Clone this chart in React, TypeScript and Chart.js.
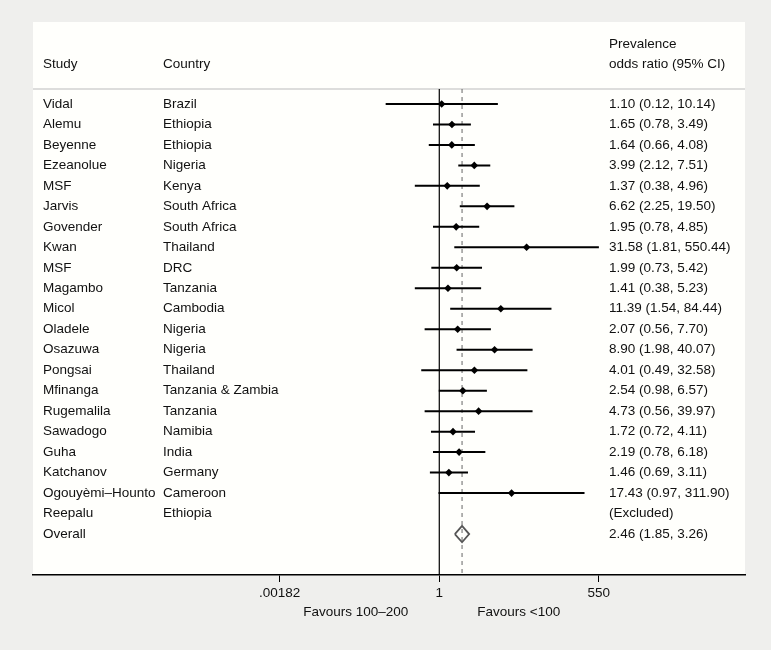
import React, { useEffect, useRef } from "react";
import { Chart, registerables } from "chart.js";

Chart.register(...registerables);

// ---------- data ----------
const studies = [
  "Vidal", "Alemu", "Beyenne", "Ezeanolue", "MSF", "Jarvis", "Govender", "Kwan", "MSF",
  "Magambo", "Micol", "Oladele", "Osazuwa", "Pongsai", "Mfinanga", "Rugemalila",
  "Sawadogo", "Guha", "Katchanov", "Ogouyèmi–Hounto", "Reepalu",
];
const countries = [
  "Brazil", "Ethiopia", "Ethiopia", "Nigeria", "Kenya", "South Africa", "South Africa",
  "Thailand", "DRC", "Tanzania", "Cambodia", "Nigeria", "Nigeria", "Thailand",
  "Tanzania & Zambia", "Tanzania", "Namibia", "India", "Germany", "Cameroon", "Ethiopia",
];
const oddsRatio: (number | null)[] = [
  1.10, 1.65, 1.64, 3.99, 1.37, 6.62, 1.95, 31.58, 1.99, 1.41, 11.39, 2.07, 8.90, 4.01,
  2.54, 4.73, 1.72, 2.19, 1.46, 17.43, null,
];
const ciLower: (number | null)[] = [
  0.12, 0.78, 0.66, 2.12, 0.38, 2.25, 0.78, 1.81, 0.73, 0.38, 1.54, 0.56, 1.98, 0.49,
  0.98, 0.56, 0.72, 0.78, 0.69, 0.97, null,
];
const ciUpper: (number | null)[] = [
  10.14, 3.49, 4.08, 7.51, 4.96, 19.50, 4.85, 550.44, 5.42, 5.23, 84.44, 7.70, 40.07, 32.58,
  6.57, 39.97, 4.11, 6.18, 3.11, 311.90, null,
];
const excludedLabel = "(Excluded)";
const overallLabel = "Overall";
const overallOR = 2.46;
const overallLower = 1.85;
const overallUpper = 3.26;
const tickValues = [0.00182, 1, 550];
const tickLabels = [".00182", "1", "550"];
const favourLabels = ["Favours 100–200", "Favours <100"];
const headerStudy = "Study";
const headerCountry = "Country";
const headerEffect = ["Prevalence", "odds ratio (95% CI)"];

// ---------- styles / layout ----------
const FONT = "13.5px 'Liberation Sans', Arial, Helvetica, sans-serif";
const TEXT = "#111";
const BG = "#efefed";
const PANEL = "#fffffc";
const PANEL_TOP = 22;
const COL_STUDY = 10;
const COL_COUNTRY = 130;
const COL_EFFECT = 576;
const DIAMOND_HALF = 0.4;

const fmt = (v: number) => v.toFixed(2);

export default function App() {
  const ref = useRef<HTMLCanvasElement | null>(null);

  useEffect(() => {
    const canvas = ref.current;
    if (!canvas) return;

    const n = studies.length;
    const ciData: any[] = [];
    const ptData: any[] = [];
    for (let i = 0; i < n; i++) {
      if (oddsRatio[i] == null) continue;
      ciData.push({ x: ciLower[i], y: i }, { x: ciUpper[i], y: i }, { x: null, y: null });
      ptData.push({ x: oddsRatio[i], y: i });
    }
    const diamond = [
      { x: overallLower, y: n },
      { x: overallOR, y: n - DIAMOND_HALF },
      { x: overallUpper, y: n },
      { x: overallOR, y: n + DIAMOND_HALF },
      { x: overallLower, y: n },
    ];

    const forestPlugin = {
      id: "forest",
      beforeDraw(chart: any) {
        const { ctx, chartArea } = chart;
        ctx.save();
        ctx.fillStyle = BG;
        ctx.fillRect(0, 0, chart.width, chart.height);
        ctx.fillStyle = PANEL;
        ctx.fillRect(chartArea.left, PANEL_TOP, chartArea.right - chartArea.left, chartArea.bottom - PANEL_TOP);
        ctx.restore();
      },
      beforeDatasetsDraw(chart: any) {
        const { ctx, chartArea, scales } = chart;
        const xs = scales.x;
        ctx.save();
        // header separator
        ctx.strokeStyle = "#d2d2d2";
        ctx.lineWidth = 1.5;
        ctx.beginPath();
        ctx.moveTo(chartArea.left, chartArea.top);
        ctx.lineTo(chartArea.right, chartArea.top);
        ctx.stroke();
        // null line
        const x1 = xs.getPixelForValue(1);
        ctx.strokeStyle = "#000";
        ctx.lineWidth = 1.2;
        ctx.beginPath();
        ctx.moveTo(x1, chartArea.top);
        ctx.lineTo(x1, chartArea.bottom);
        ctx.stroke();
        // overall dashed line
        const xo = xs.getPixelForValue(overallOR);
        ctx.strokeStyle = "#666";
        ctx.lineWidth = 1;
        ctx.setLineDash([4, 4]);
        ctx.beginPath();
        ctx.moveTo(xo, chartArea.top);
        ctx.lineTo(xo, chartArea.bottom);
        ctx.stroke();
        ctx.restore();
      },
      afterDraw(chart: any) {
        const { ctx, chartArea, scales } = chart;
        const ys = scales.y;
        const xs = scales.x;
        const L = chartArea.left;
        ctx.save();
        ctx.font = FONT;
        ctx.fillStyle = TEXT;
        ctx.textBaseline = "middle";
        ctx.textAlign = "left";
        // headers
        ctx.fillText(headerStudy, L + COL_STUDY, 64);
        ctx.fillText(headerCountry, L + COL_COUNTRY, 64);
        ctx.fillText(headerEffect[0], L + COL_EFFECT, 44);
        ctx.fillText(headerEffect[1], L + COL_EFFECT, 64);
        // rows
        for (let i = 0; i < studies.length; i++) {
          const y = ys.getPixelForValue(i);
          ctx.fillText(studies[i], L + COL_STUDY, y);
          ctx.fillText(countries[i], L + COL_COUNTRY, y);
          const o = oddsRatio[i];
          const txt = o == null ? excludedLabel : `${fmt(o)} (${fmt(ciLower[i] as number)}, ${fmt(ciUpper[i] as number)})`;
          ctx.fillText(txt, L + COL_EFFECT, y);
        }
        const yo = ys.getPixelForValue(studies.length);
        ctx.fillText(overallLabel, L + COL_STUDY, yo);
        ctx.fillText(`${fmt(overallOR)} (${fmt(overallLower)}, ${fmt(overallUpper)})`, L + COL_EFFECT, yo);
        // favours labels
        const x1 = xs.getPixelForValue(1);
        const yf = chartArea.bottom + 37;
        ctx.textAlign = "right";
        ctx.fillText(favourLabels[0], x1 - 31, yf);
        ctx.textAlign = "left";
        ctx.fillText(favourLabels[1], x1 + 38, yf);
        ctx.restore();
      },
    };

    const chart = new Chart(canvas, {
      type: "line",
      data: {
        datasets: [
          {
            data: ciData,
            borderColor: "#000",
            borderWidth: 2,
            pointRadius: 0,
            spanGaps: false,
            fill: false,
          },
          {
            data: ptData,
            showLine: false,
            pointStyle: "rectRot",
            pointRadius: 3.8,
            pointBackgroundColor: "#000",
            pointBorderColor: "#000",
            pointBorderWidth: 0,
          },
          {
            data: diamond,
            borderColor: "#555",
            borderWidth: 1.8,
            pointRadius: 0,
            fill: false,
            tension: 0,
          },
        ],
      } as any,
      options: {
        responsive: false,
        animation: false,
        events: [],
        layout: { padding: { left: 33, right: 26, top: 89, bottom: 45 } },
        plugins: { legend: { display: false }, tooltip: { enabled: false } },
        scales: {
          x: {
            type: "logarithmic",
            min: Math.pow(10, -6.977),
            max: Math.pow(10, 5.25),
            afterBuildTicks: (ax: any) => {
              ax.ticks = tickValues.map((v) => ({ value: v }));
            },
            afterFit: (ax: any) => {
              ax.height = 30;
            },
            ticks: {
              autoSkip: false,
              maxRotation: 0,
              padding: 3,
              color: TEXT,
              font: { family: "'Liberation Sans', Arial, Helvetica, sans-serif", size: 13.5 },
              callback: (_v: any, i: number) => tickLabels[i],
            },
            grid: { drawOnChartArea: false, drawTicks: true, tickLength: 7, color: "#000", lineWidth: 1 },
            border: { display: true, color: "#000", width: 1.5 },
          },
          y: {
            type: "linear",
            display: false,
            reverse: true,
            min: -0.73,
            max: 23,
          },
        },
      } as any,
      plugins: [forestPlugin],
    });
    return () => chart.destroy();
  }, []);

  return (
    <div style={{ position: "fixed", left: 0, top: 0, width: 771, height: 650 }}>
      <canvas ref={ref} width={771} height={650} />
    </div>
  );
}
